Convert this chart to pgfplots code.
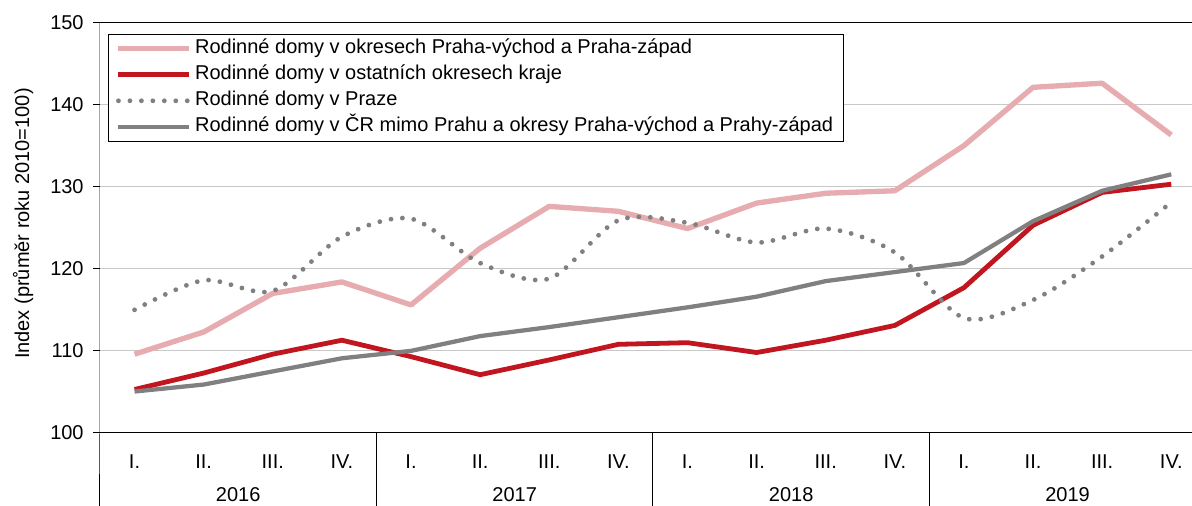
\documentclass[border=0pt]{standalone}
\usepackage{pgfplots}
\pgfplotsset{compat=1.18}
\usepackage{fontspec}
\setmainfont{Liberation Sans}
\definecolor{cpink}{RGB}{230,172,175}
\definecolor{cred}{RGB}{193,22,32}
\definecolor{cgray}{RGB}{128,128,128}
\definecolor{cgrid}{RGB}{200,200,200}

\begin{document}
\begin{tikzpicture}
\useasboundingbox (-75pt,-54.75pt) rectangle (819pt,324.75pt);
\begin{axis}[
  at={(0,0)}, anchor=south west, scale only axis,
  width=819pt, height=307.9pt,
  xmin=-0.5, xmax=15.3, ymin=100, ymax=150,
  clip=false,
  axis line style={draw=none},
  ymajorgrids, grid style={cgrid, line width=0.75pt},
  ytick={100,110,...,150}, ytick pos=left,
  tick align=outside, major tick length=5.25pt,
  ytick style={black, line width=0.75pt},
  yticklabel style={xshift=-3.5pt},
  xtick={0,...,15}, xtick pos=bottom,
  xticklabels={I.,II.,III.,IV.,I.,II.,III.,IV.,I.,II.,III.,IV.,I.,II.,III.,IV.},
  xtick style={draw=none},
  xticklabel style={anchor=center, yshift=-16.5pt},
  extra x ticks={1.5,5.5,9.5,13.5},
  extra x tick labels={2016,2017,2018,2019},
  extra x tick style={xticklabel style={yshift=-24.75pt}},
  tick label style={font=\fontsize{15}{18}\selectfont},
  /pgf/number format/assume math mode=true,
  ylabel={Index (průměr roku 2010=100)},
  every axis y label/.style={at={(rel axis cs:-0.0705,0.51)}, rotate=90, anchor=center, font=\fontsize{15}{18}\selectfont},
  legend style={at={(rel axis cs:0.0073,0.972)}, anchor=north west, draw=black, line width=0.75pt,
    font=\fontsize{15}{18}\selectfont, inner xsep=5.5pt, inner ysep=1pt, row sep=0pt,
    nodes={text height=11pt, text depth=3.5pt, inner sep=2.5pt},
    /tikz/every even column/.append style={column sep=2.5pt}},
  legend cell align=left,
  legend image code/.code={\draw[#1] (0pt,0pt) -- (53pt,0pt);},
]
\addplot[cpink, line width=4pt, line join=round] coordinates {
(0,109.6) (1,112.3) (2,117.0) (3,118.4) (4,115.6) (5,122.5) (6,127.6) (7,127.0)
(8,124.9) (9,128.0) (10,129.2) (11,129.5) (12,135.0) (13,142.1) (14,142.6) (15,136.3)};
\addlegendentry{Rodinné domy v okresech Praha-východ a Praha-západ}
\addplot[cred, line width=3.6pt, line join=round] coordinates {
(0,105.3) (1,107.3) (2,109.6) (3,111.3) (4,109.3) (5,107.1) (6,108.9) (7,110.8)
(8,111.0) (9,109.8) (10,111.3) (11,113.1) (12,117.7) (13,125.3) (14,129.3) (15,130.3)};
\addlegendentry{Rodinné domy v ostatních okresech kraje}
\addplot[cgray, line width=3.6pt, line cap=round, dash pattern=on 0pt off 8.6pt, smooth] coordinates {
(0,115.0) (1,118.6) (2,117.3) (3,123.9) (4,126.1) (5,120.7) (6,118.8) (7,125.9)
(8,125.6) (9,123.2) (10,124.9) (11,122.0) (12,114.0) (13,116.2) (14,121.5) (15,128.1)};
\addlegendentry{Rodinné domy v Praze}
\addplot[cgray, line width=3.2pt, line join=round] coordinates {
(0,105.05) (1,105.9) (2,107.5) (3,109.1) (4,110.0) (5,111.8) (6,112.9) (7,114.1)
(8,115.3) (9,116.6) (10,118.5) (11,119.6) (12,120.7) (13,125.8) (14,129.5) (15,131.5)};
\addlegendentry{Rodinné domy v ČR mimo Prahu a okresy Praha-východ a Prahy-západ}
\draw[black, line width=0.75pt] (rel axis cs:0,1) -- (rel axis cs:1,1);
\draw[black, line width=0.75pt] (rel axis cs:0,0) -- (rel axis cs:1,0);
\draw[black, line width=0.75pt] (rel axis cs:0,1) -- (rel axis cs:0,0) -- ++(0pt,-60pt);
\draw[black, line width=0.75pt] (axis cs:3.5,100) -- ++(0pt,-60pt);
\draw[black, line width=0.75pt] (axis cs:7.5,100) -- ++(0pt,-60pt);
\draw[black, line width=0.75pt] (axis cs:11.5,100) -- ++(0pt,-60pt);
\end{axis}
\end{tikzpicture}
\end{document}
